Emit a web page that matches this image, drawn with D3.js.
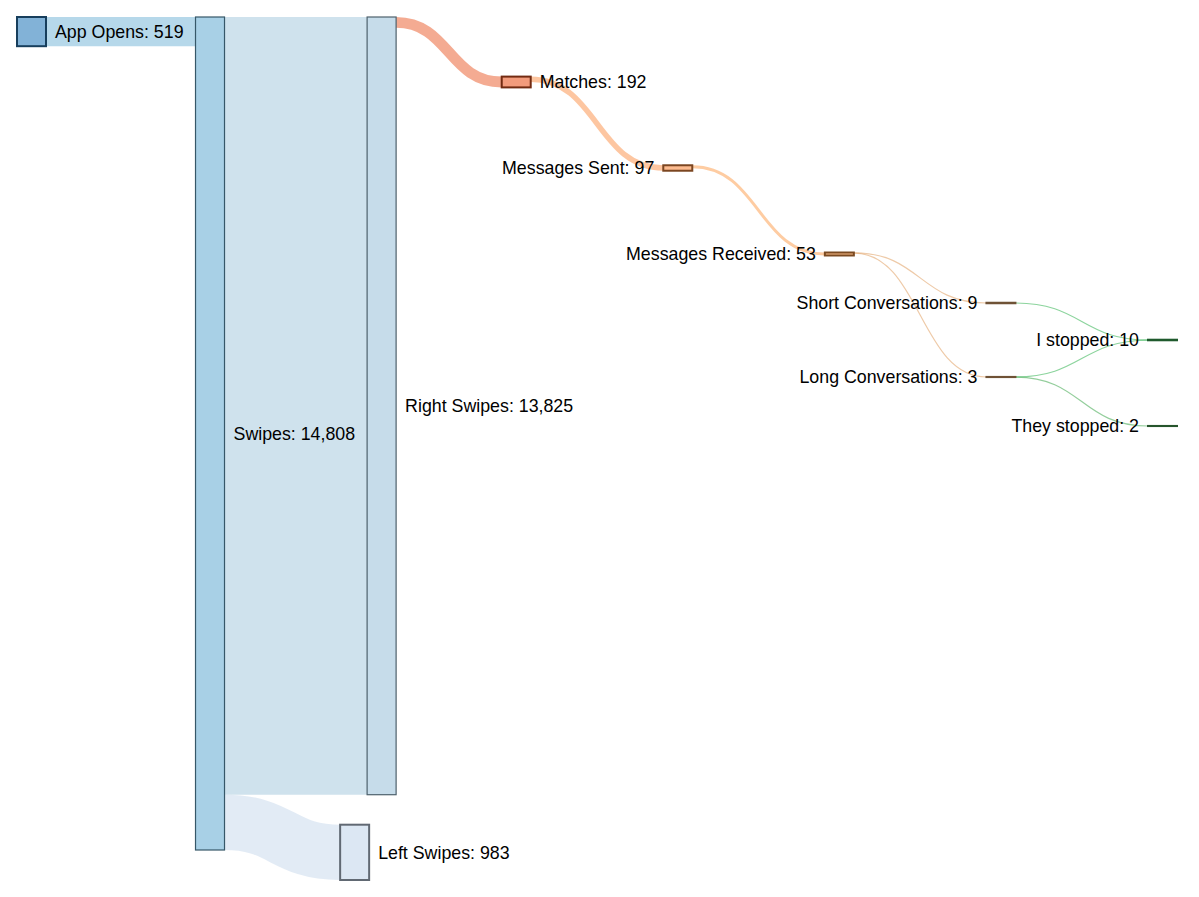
<!DOCTYPE html>
<html>
<head>
<meta charset="utf-8">
<script src="https://cdn.jsdelivr.net/npm/d3@7"></script>
<style>
  body { margin: 0; background: #fff; }
  .label { font-family: "Liberation Sans", Arial, Helvetica, sans-serif; font-size: 17.8px; fill: #000; }
</style>
</head>
<body>
<div id="chart"></div>
<script>
// dating app funnel, values
var nodeNames = ["App Opens", "Swipes", "Right Swipes", "Left Swipes", "Matches", "Messages Sent",
  "Messages Received", "Short Conversations", "Long Conversations", "I stopped", "They stopped"];
var linkSources = ["App Opens", "Swipes", "Swipes", "Right Swipes", "Matches", "Messages Sent",
  "Messages Received", "Messages Received", "Short Conversations", "Long Conversations", "Long Conversations"];
var linkTargets = ["Swipes", "Right Swipes", "Left Swipes", "Matches", "Messages Sent", "Messages Received",
  "Short Conversations", "Long Conversations", "I stopped", "I stopped", "They stopped"];
var linkValues = [519, 13825, 983, 192, 97, 53, 9, 3, 9, 1, 2];

// node colours (same order as nodeNames)
var nodeColours = ["#2f7fbc", "#6eb1d5", "#a0c5dc", "#c5d7eb", "#e95825", "#fc8e44",
  "#fd9a45", "#e3a76e", "#e3a76e", "#3fb85c", "#4dae5a"];

var width = 1199, height = 897;
var marginTop = 17, marginBottom = 17, marginLeft = 17, marginRight = 22;
var nodeWidth = 29, nodePadding = 30, cascadeGap = 74, cascadeStart = 3;
var labelGap = 9, labelClear = 12;

var colour = d3.scaleOrdinal().domain(nodeNames).range(nodeColours);
var fmt = d3.format(",");
function labelText(n) { return n.name + ": " + fmt(n.value); }

var svg = d3.select("#chart")
  .append("svg")
  .attr("width", width)
  .attr("height", height)
  .attr("viewBox", "0 0 " + width + " " + height);

// build graph
var nodes = nodeNames.map(function(name) { return {name: name, sourceLinks: [], targetLinks: [], depth: 0}; });
var byName = new Map(nodes.map(function(n) { return [n.name, n]; }));
var links = linkValues.map(function(v, i) {
  var l = {source: byName.get(linkSources[i]), target: byName.get(linkTargets[i]), value: v};
  l.source.sourceLinks.push(l);
  l.target.targetLinks.push(l);
  return l;
});
nodes.forEach(function(n) {
  n.value = Math.max(d3.sum(n.sourceLinks, function(l) { return l.value; }),
                     d3.sum(n.targetLinks, function(l) { return l.value; }));
});
nodes.forEach(function() {
  links.forEach(function(l) { l.target.depth = Math.max(l.target.depth, l.source.depth + 1); });
});
var maxDepth = d3.max(nodes, function(n) { return n.depth; });
var columns = d3.range(maxDepth + 1).map(function(d) { return nodes.filter(function(n) { return n.depth === d; }); });

// label widths, needed so labels don't run into the next column
var measure = svg.append("text").attr("class", "label");
nodes.forEach(function(n) { measure.text(labelText(n)); n.labelWidth = measure.node().getComputedTextLength(); });
measure.remove();

// scales
var innerHeight = height - marginTop - marginBottom;
var ky = d3.min(columns, function(c) {
  return (innerHeight - (c.length - 1) * nodePadding) / d3.sum(c, function(n) { return n.value; });
});
var size = d3.scaleLinear().domain([0, 1]).range([0, ky]);
var x = d3.scaleLinear().domain([0, maxDepth]).range([marginLeft, width - marginRight - nodeWidth]);
// small nodes after the big swipe block step down the page
var cascade = d3.scaleLinear().domain([3, 6]).range([82, 340]);

// vertical placement
columns.forEach(function(col, depth) {
  col.forEach(function(n) { n.h = size(n.value); });
  if (depth < cascadeStart) {
    var y = marginTop;
    col.forEach(function(n) { n.y0 = y; n.y1 = y + n.h; y = n.y1 + nodePadding; });
    return;
  }
  // nodes fed by several sources sit between them, the rest follow the cascade
  var merged = col.filter(function(n) { return n.targetLinks.length > 1; });
  var single = col.filter(function(n) { return n.targetLinks.length <= 1; });
  merged.forEach(function(n) {
    var c = d3.mean(n.targetLinks, function(l) { return (l.source.y0 + l.source.y1) / 2; });
    n.y0 = c - n.h / 2; n.y1 = c + n.h / 2;
  });
  single.forEach(function(n, i) {
    var c = cascade(depth) + (i - (single.length - 1) / 2) * cascadeGap;
    n.y0 = c - n.h / 2; n.y1 = c + n.h / 2;
  });
});

// horizontal placement: column position, pushed right past any label beside it
columns.forEach(function(col, depth) {
  col.forEach(function(n) {
    n.x0 = x(depth);
    if (depth > 0) {
      columns[depth - 1].forEach(function(p) {
        var cy = (p.y0 + p.y1) / 2;
        if (p.x0 < width / 2 && cy + 11 > n.y0 && cy - 11 < n.y1) {
          n.x0 = Math.max(n.x0, p.x1 + labelGap + p.labelWidth + labelClear);
        }
      });
    }
    n.x1 = n.x0 + nodeWidth;
  });
});

// link positions inside nodes
nodes.forEach(function(n) {
  n.sourceLinks.sort(function(a, b) { return a.target.y0 - b.target.y0; });
  n.targetLinks.sort(function(a, b) { return a.source.y0 - b.source.y0; });
});
nodes.forEach(function(n) {
  var y0 = n.y0, y1 = n.y0;
  n.sourceLinks.forEach(function(l) { l.width = size(l.value); l.y0 = y0 + l.width / 2; y0 += l.width; });
  n.targetLinks.forEach(function(l) { var w = size(l.value); l.y1 = y1 + w / 2; y1 += w; });
});

var linkPath = d3.linkHorizontal()
  .source(function(l) { return [l.source.x1, l.y0]; })
  .target(function(l) { return [l.target.x0, l.y1]; });

// links
svg.append("g")
  .attr("fill", "none")
  .selectAll("path")
  .data(links)
  .enter()
  .append("path")
  .attr("d", linkPath)
  .attr("stroke", function(l) { return colour(l.target.name); })
  .attr("stroke-opacity", function(l) { return l.width < 1 ? 0.6 : 0.5; })
  .attr("stroke-width", function(l) { return Math.max(1.2, l.width); });

// nodes
svg.append("g")
  .selectAll("rect")
  .data(nodes)
  .enter()
  .append("rect")
  .attr("x", function(n) { return n.x0; })
  .attr("y", function(n) { return n.y0; })
  .attr("width", nodeWidth)
  .attr("height", function(n) { return n.y1 - n.y0; })
  .attr("fill", function(n) { return colour(n.name); })
  .attr("fill-opacity", 0.6)
  .attr("stroke", function(n) { return d3.rgb(colour(n.name)).darker(2); })
  .attr("stroke-width", function(n) { return n.h > 100 ? 1.2 : 2; });

// labels
svg.append("g")
  .selectAll("text")
  .data(nodes)
  .enter()
  .append("text")
  .attr("class", "label")
  .attr("x", function(n) { return n.x0 < width / 2 ? n.x1 + labelGap : n.x0 - labelGap; })
  .attr("y", function(n) { return (n.y0 + n.y1) / 2; })
  .attr("dy", "0.35em")
  .attr("text-anchor", function(n) { return n.x0 < width / 2 ? "start" : "end"; })
  .text(labelText);
</script>
</body>
</html>
